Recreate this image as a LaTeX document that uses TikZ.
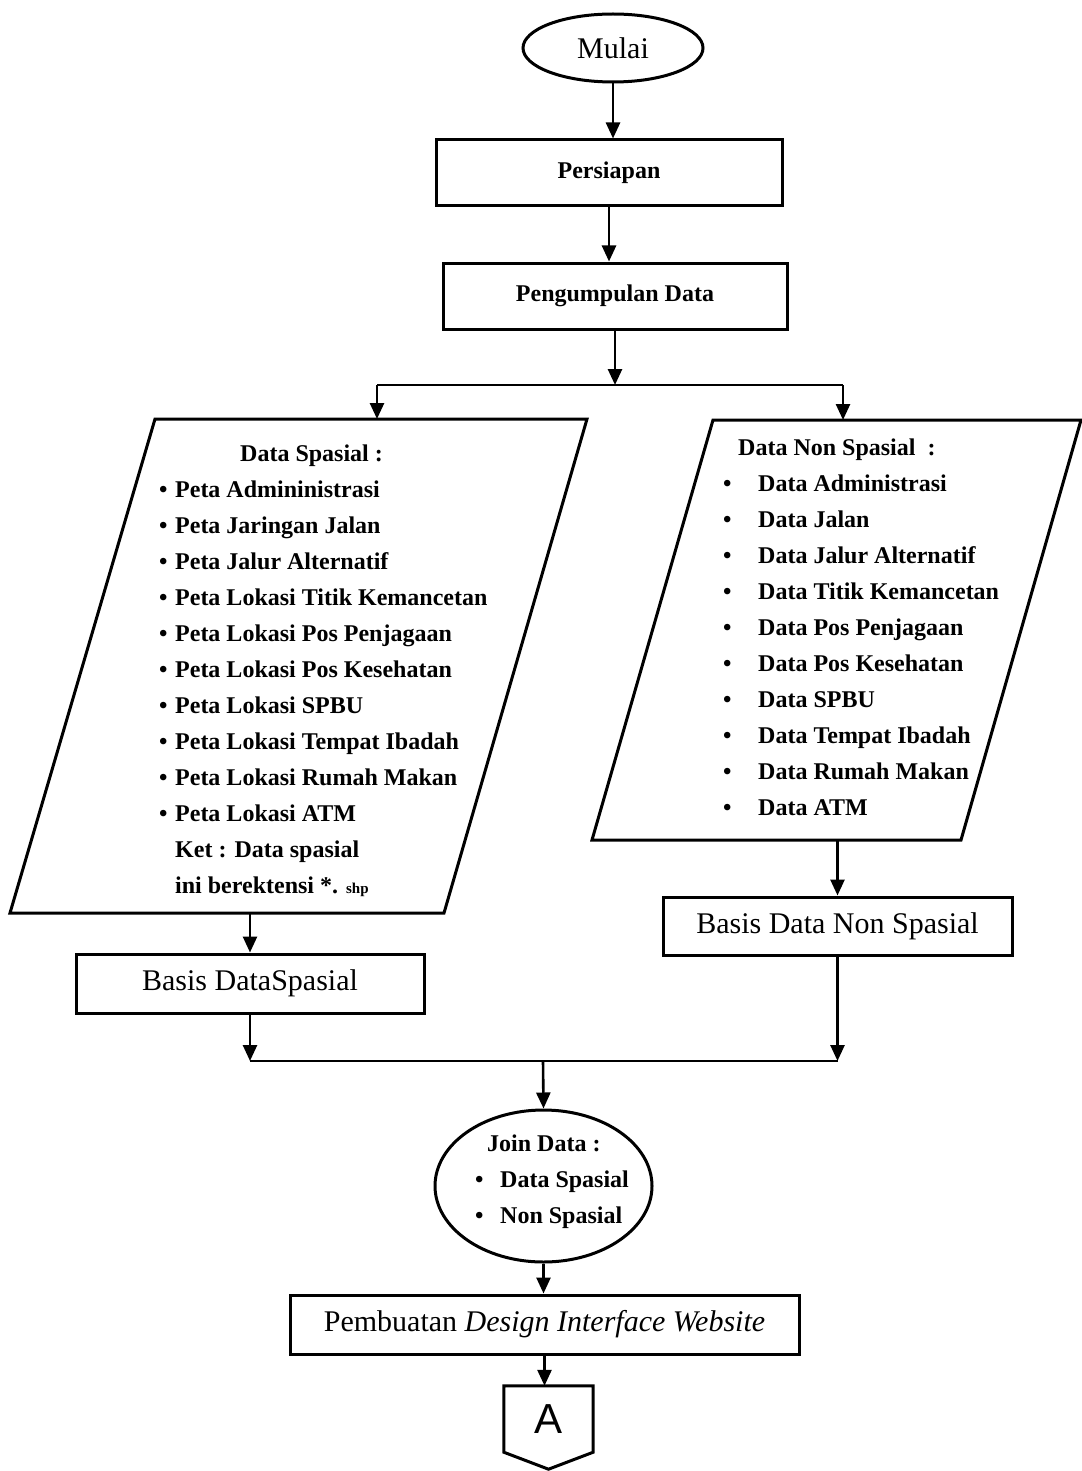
\documentclass[tikz,border=0pt]{standalone}
\usepackage{fontspec}
\setmainfont{Liberation Serif}
\newfontfamily\arialfont{Liberation Sans}
\usetikzlibrary{arrows.meta, positioning, shapes.geometric}

\tikzset{
    box/.style={draw, rectangle, line width=3pt, inner sep=0pt},
    terminal/.style={draw, ellipse, line width=3pt, inner sep=0pt},
    datashape/.style={line width=3pt, line join=miter},
    flow/.style={line width=2.6pt, -{Triangle[length=16pt,width=14pt]}},
    link/.style={line width=2.6pt},
    listtext/.style={inner sep=0pt, anchor=north west, font=\bfseries\fontsize{24}{24}\selectfont},
    bigtext/.style={font=\fontsize{30}{30}\selectfont}
}

\begin{document}
\begin{tikzpicture}[x=1pt, y=-1pt]
            \useasboundingbox (0,0) rectangle (1081,1471);

            % Start and preparation
            \node[terminal, bigtext, minimum width=180pt, minimum height=68pt] (mulai) at (613,48) {Mulai};
            \node[box, minimum width=346pt, minimum height=66pt, font=\bfseries\fontsize{24}{24}\selectfont] (persiapan) at (609,173) {Persiapan};
            \node[box, minimum width=344pt, minimum height=66pt, font=\bfseries\fontsize{24}{24}\selectfont] (pengumpulan) at (615,296) {Pengumpulan Data};

            \draw[flow] (mulai.south) -- (mulai.south |- persiapan.north);
            \draw[flow] (persiapan.south) -- (persiapan.south |- pengumpulan.north);

            % Split into the two data groups
            \coordinate (splitL) at (377,385);
            \coordinate (splitR) at (843,385);
            \draw[flow] (pengumpulan.south) -- (pengumpulan.south |- splitL);
            \draw[link] (splitL) -- (splitR);

            \coordinate (spTL) at (155,419);
            \coordinate (spTR) at (587,419);
            \coordinate (spBR) at (444,913);
            \coordinate (spBL) at (10,913);
            \draw[datashape] (spBL) -- (spTL) -- (spTR) -- (spBR) -- cycle;

            \coordinate (nsTL) at (713,420);
            \coordinate (nsTR) at (1081,420);
            \coordinate (nsBR) at (961,840);
            \coordinate (nsBL) at (592,840);
            \draw[datashape] (nsBL) -- (nsTL) -- (nsTR) -- (nsBR) -- cycle;

            \draw[flow] (splitL) -- (splitL |- spTL);
            \draw[flow] (splitR) -- (splitR |- nsTL);

            \node[listtext] (spasialtxt) at (159,436) {\def\arraystretch{1.5}%
                \begin{tabular}{@{}l@{\hspace{7.6pt}}l@{}}
                    \multicolumn{2}{@{\hspace{81pt}}l@{}}{Data Spasial :}\\
                    \textbullet & Peta Admininistrasi\\
                    \textbullet & Peta Jaringan Jalan\\
                    \textbullet & Peta Jalur Alternatif\\
                    \textbullet & Peta Lokasi Titik Kemancetan\\
                    \textbullet & Peta Lokasi Pos Penjagaan\\
                    \textbullet & Peta Lokasi Pos Kesehatan\\
                    \textbullet & Peta Lokasi SPBU\\
                    \textbullet & Peta Lokasi Tempat Ibadah\\
                    \textbullet & Peta Lokasi Rumah Makan\\
                    \textbullet & Peta Lokasi ATM\\
                    & Ket : Data spasial\\
                    & ini berektensi *. {\fontsize{15}{15}\selectfont shp}
                \end{tabular}};

            \node[listtext] (nonspasialtxt) at (723,430) {\def\arraystretch{1.5}%
                \begin{tabular}{@{}l@{\hspace{26.6pt}}l@{}}
                    \multicolumn{2}{@{\hspace{15pt}}l@{}}{Data Non Spasial\ \ :}\\
                    \textbullet & Data Administrasi\\
                    \textbullet & Data Jalan\\
                    \textbullet & Data Jalur Alternatif\\
                    \textbullet & Data Titik Kemancetan\\
                    \textbullet & Data Pos Penjagaan\\
                    \textbullet & Data Pos Kesehatan\\
                    \textbullet & Data SPBU\\
                    \textbullet & Data Tempat Ibadah\\
                    \textbullet & Data Rumah Makan\\
                    \textbullet & Data ATM
                \end{tabular}};

            % Databases
            \node[box, bigtext, minimum width=348pt, minimum height=59pt] (basisS) at (250,983.5) {Basis DataSpasial};
            \node[box, bigtext, minimum width=349pt, minimum height=58pt] (basisN) at (837.5,926) {Basis Data Non Spasial};

            \draw[flow] (basisS.north |- spBL) -- (basisS.north);
            \draw[flow] (basisN.north |- nsBL) -- (basisN.north);

            % Merge and join
            \coordinate (mergeC) at (543,1061);
            \draw[flow] (basisS.south) -- (basisS.south |- mergeC);
            \draw[flow] (basisN.south) -- (basisN.south |- mergeC);
            \draw[link] (basisS.south |- mergeC) -- (basisN.south |- mergeC);

            \node[terminal, minimum width=217pt, minimum height=152pt] (join) at (543.5,1186) {};
            \node[listtext] (jointxt) at (475,1126) {\def\arraystretch{1.5}%
                \begin{tabular}{@{}l@{\hspace{16.6pt}}l@{}}
                    \multicolumn{2}{@{\hspace{12pt}}l@{}}{Join Data :}\\
                    \textbullet & Data Spasial\\
                    \textbullet & Non Spasial
                \end{tabular}};
            \draw[flow] (mergeC) -- (join.north);

            \node[box, bigtext, minimum width=509pt, minimum height=59pt] (buat) at (544.5,1324.5) {Pembuatan \textit{Design Interface Website}};
            \draw[flow] (join.south) -- (join.south |- buat.north);

            % Off-page connector
            \node[minimum width=89pt, minimum height=66pt, inner sep=0pt, font=\arialfont\fontsize{42}{42}\selectfont] (conA) at (548.5,1419) {A};
            \draw[line width=3pt] (conA.north west) -- (conA.north east) -- (conA.south east) -- ([yshift=-17pt]conA.south) -- (conA.south west) -- cycle;
            \draw[flow] (buat.south) -- (buat.south |- conA.north);

        \end{tikzpicture}
\end{document}
